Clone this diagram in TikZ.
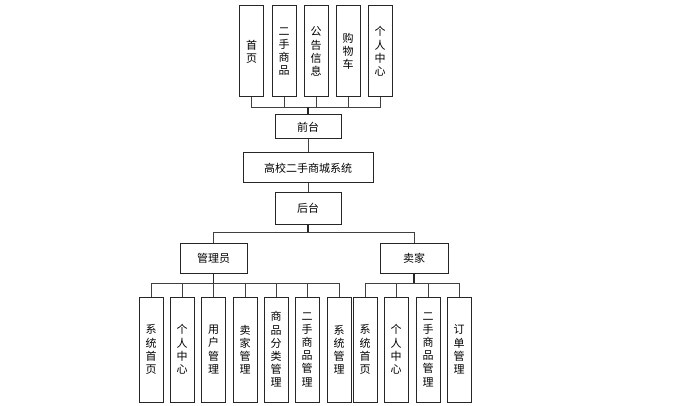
\documentclass[tikz,border=0pt]{standalone}
\usepackage{fontspec}
\setmainfont{Noto Sans CJK SC}
\begin{document}
\begin{tikzpicture}[x=1pt,y=-1pt,
  box/.style={draw=black!85,line width=1pt,fill=white,inner sep=0pt,align=center,
    font=\fontsize{11}{13.2}\selectfont},
  vbox/.style={box,minimum width=24pt,text width=20pt},
  hbox/.style={box},
  conn/.style={draw=black!75,line width=0.8pt},
  trunk/.style={draw=black!85,line width=1.4pt}]
\useasboundingbox (0,0) rectangle (685,406);
% top boxes
\node[vbox,minimum height=91pt] (t1) at (251.5,51.5) {首\\页};
\node[vbox,minimum height=91pt] (t2) at (284,51.5) {二\\手\\商\\品};
\node[vbox,minimum height=91pt] (t3) at (316,51.5) {公\\告\\信\\息};
\node[vbox,minimum height=91pt] (t4) at (348,51.5) {购\\物\\车};
\node[vbox,minimum height=91pt] (t5) at (380,51.5) {个\\人\\中\\心};
\coordinate (topbus) at (308,107);
% middle
\node[hbox,minimum width=66pt,minimum height=24pt] (front) at (308,127) {前台};
\node[hbox,minimum width=130pt,minimum height=30pt] (main) at (308,168) {高校二手商城系统};
\node[hbox,minimum width=66pt,minimum height=31pt] (back) at (308,208.5) {后台};
\coordinate (backbus) at (308,232);
\node[hbox,minimum width=67pt,minimum height=30pt] (admin) at (213.5,258) {管理员};
\node[hbox,minimum width=68pt,minimum height=30pt] (seller) at (414,258) {卖家};
\coordinate (abus) at (213.5,283);
\coordinate (sbus) at (414,283);
% admin boxes
\node[vbox,minimum height=105pt] (a1) at (151,349.5) {系\\统\\首\\页};
\node[vbox,minimum height=105pt] (a2) at (182,349.5) {个\\人\\中\\心};
\node[vbox,minimum height=105pt] (a3) at (213.5,349.5) {用\\户\\管\\理};
\node[vbox,minimum height=105pt] (a4) at (245,349.5) {卖\\家\\管\\理};
\node[vbox,minimum height=105pt] (a5) at (276,349.5) {商\\品\\分\\类\\管\\理};
\node[vbox,minimum height=105pt] (a6) at (307,349.5) {二\\手\\商\\品\\管\\理};
\node[vbox,minimum height=105pt] (a7) at (339,349.5) {系\\统\\管\\理};
% seller boxes
\node[vbox,minimum height=105pt] (s1) at (365,349.5) {系\\统\\首\\页};
\node[vbox,minimum height=105pt] (s2) at (396,349.5) {个\\人\\中\\心};
\node[vbox,minimum height=105pt] (s3) at (428,349.5) {二\\手\\商\\品\\管\\理};
\node[vbox,minimum height=105pt] (s4) at (459,349.5) {订\\单\\管\\理};
% connectors
\foreach \n in {t1,t2,t3,t4,t5} \draw[conn] (\n.south) |- (topbus);
\draw[trunk] (topbus) -- (front.north);
\draw[conn] (front.south) -- (main.north);
\draw[conn] (main.south) -- (back.north);
\draw[trunk] (back.south) -- (backbus);
\draw[conn] (backbus) -| (admin.north);
\draw[conn] (backbus) -| (seller.north);
\draw[trunk] (admin.south) -- (abus);
\draw[trunk] (seller.south) -- (sbus);
\foreach \n in {a1,a2,a3,a4,a5,a6,a7} \draw[conn] (\n.north) |- (abus);
\foreach \n in {s1,s2,s3,s4} \draw[conn] (\n.north) |- (sbus);
\end{tikzpicture}
\end{document}
